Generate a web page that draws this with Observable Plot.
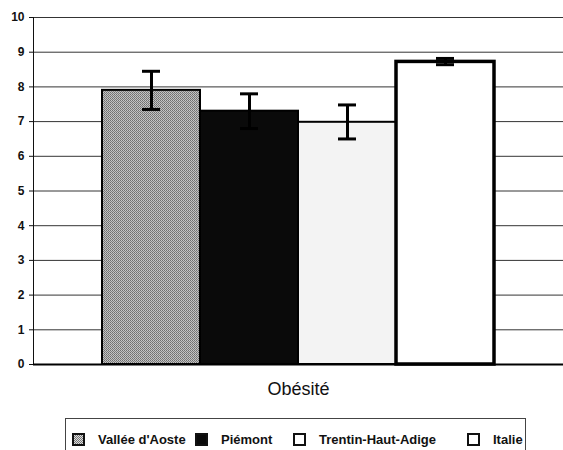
<!DOCTYPE html>
<html>
<head>
<meta charset="utf-8">
<script src="https://cdn.jsdelivr.net/npm/d3@7"></script>
<script src="https://cdn.jsdelivr.net/npm/@observablehq/plot@0.6"></script>
<style>
  html, body { margin: 0; padding: 0; background: #fff; width: 563px; height: 450px; overflow: hidden; }
  #wrap { position: relative; width: 563px; height: 450px; font-family: "Liberation Sans", Arial, sans-serif; }
  #legend { position: absolute; left: 65px; top: 418px; width: 461px; height: 40px; border: 1px solid #444; box-sizing: border-box; }
  .item { position: absolute; top: 13px; display: flex; align-items: center; font-size: 13px; font-weight: bold; color: #111; }
  .sw { width: 9px; height: 9px; border: 2px solid #111; margin-right: 13px; }
</style>
</head>
<body>
<div id="wrap"></div>
<script>
const regions = ["Vallée d'Aoste", "Piémont", "Trentin-Haut-Adige", "Italie"];
const values = [7.9, 7.3, 6.98, 8.72];
const errLow = [7.35, 6.8, 6.5, 8.64];
const errHigh = [8.45, 7.8, 7.48, 8.82];
const yTicks = [0, 1, 2, 3, 4, 5, 6, 7, 8, 9, 10];
const xLabel = "Obésité";

const fills = ["url(#stip)", "#0a0a0a", "#f3f3f3", "#ffffff"];

const data = regions.map((r, i) => ({region: r, value: values[i], lo: errLow[i], hi: errHigh[i]}));

const chart = Plot.plot({
  width: 563,
  height: 410,
  marginLeft: 33,
  marginRight: 0,
  marginTop: 17,
  marginBottom: 46,
  style: {fontFamily: "'Liberation Sans', Arial, sans-serif", fontSize: "12px", fontWeight: "bold", color: "#111", background: "#fff"},
  x: {domain: regions, range: [102, 494], padding: 0, axis: null},
  y: {domain: [0, 10], ticks: yTicks, tickSize: 4, tickPadding: 5, label: null, line: true},
  color: {domain: regions, range: fills},
  marks: [
    Plot.gridY(yTicks, {stroke: "#111", strokeOpacity: 0.85, strokeWidth: 1}),
    Plot.barY(data, {x: "region", y: "value", fill: "region", stroke: "#000", strokeWidth: 2}),
    Plot.barY(data.filter(d => d.region === "Italie"), {x: "region", y: "value", fill: "none", stroke: "#000", strokeWidth: 3.5}),
    Plot.ruleY([0], {stroke: "#000", strokeWidth: 2}),
    Plot.ruleX(data, {x: "region", y1: "lo", y2: "hi", stroke: "#000", strokeWidth: 3}),
    Plot.tickY(data, {x: "region", y: "hi", stroke: "#000", strokeWidth: 3, insetLeft: 40, insetRight: 40}),
    Plot.tickY(data, {x: "region", y: "lo", stroke: "#000", strokeWidth: 3, insetLeft: 40, insetRight: 40}),
    Plot.text([xLabel], {frameAnchor: "bottom", dy: 30, fontSize: 18, fontWeight: "normal", fill: "#111"})
  ]
});

// stipple pattern for the first bar
const ns = "http://www.w3.org/2000/svg";
const defs = document.createElementNS(ns, "defs");
const pat = document.createElementNS(ns, "pattern");
pat.setAttribute("id", "stip");
pat.setAttribute("width", "2");
pat.setAttribute("height", "2");
pat.setAttribute("patternUnits", "userSpaceOnUse");
[[0,0,"#6e6e6e"],[1,1,"#7e7e7e"],[1,0,"#c8c8c8"],[0,1,"#bdbdbd"]].forEach(([x,y,c]) => {
  const r = document.createElementNS(ns, "rect");
  r.setAttribute("x", x); r.setAttribute("y", y);
  r.setAttribute("width", 1); r.setAttribute("height", 1);
  r.setAttribute("fill", c);
  pat.appendChild(r);
});
defs.appendChild(pat);
chart.insertBefore(defs, chart.firstChild);

const wrap = document.getElementById("wrap");
wrap.appendChild(chart);

// legend
const legend = document.createElement("div");
legend.id = "legend";
const itemLeft = [6, 129, 227, 401];
regions.forEach((r, i) => {
  const it = document.createElement("div");
  it.className = "item";
  it.style.left = itemLeft[i] + "px";
  const sw = document.createElement("div");
  sw.className = "sw";
  sw.style.background = i === 0 ? "repeating-conic-gradient(#777 0% 25%, #ddd 0% 50%) 0 0/2px 2px" : (i === 1 ? "#0a0a0a" : "#fff");
  const t = document.createElement("span");
  t.textContent = r;
  it.appendChild(sw);
  it.appendChild(t);
  legend.appendChild(it);
});
wrap.appendChild(legend);
</script>
</body>
</html>
